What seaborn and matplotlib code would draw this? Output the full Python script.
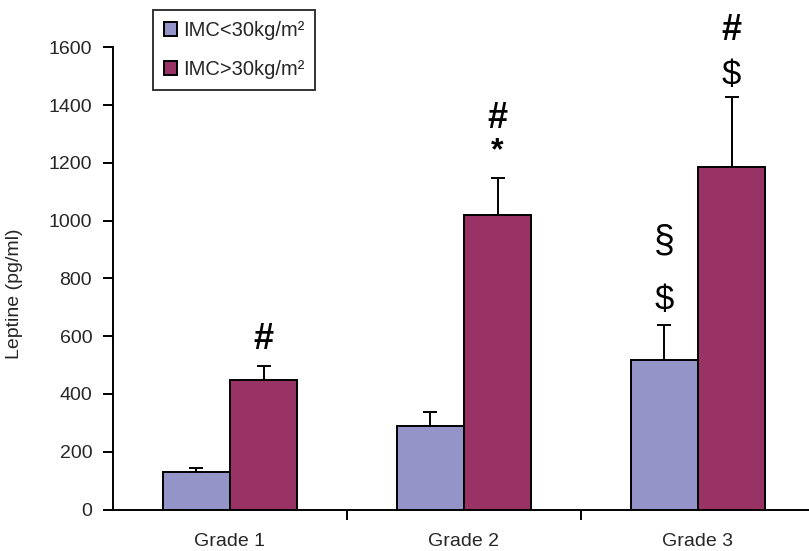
import matplotlib
matplotlib.use('Agg')
import matplotlib.pyplot as plt
import pandas as pd
import seaborn as sns

# Data
grades = ['Grade 1', 'Grade 2', 'Grade 3']
groups = ['IMC<30kg/m²', 'IMC>30kg/m²']
leptin_low = [130, 288, 518]
leptin_high = [448, 1018, 1185]
err_low = [13, 48, 120]
err_high = [50, 130, 242]

# significance marks: (grade index, group index, symbols bottom->top)
marks = [
    (0, 1, ['#']),
    (1, 1, ['*', '#']),
    (2, 0, ['$', '§']),
    (2, 1, ['$', '#']),
]

df = pd.DataFrame({
    'grade': grades * 2,
    'group': [groups[0]] * 3 + [groups[1]] * 3,
    'leptin': leptin_low + leptin_high,
})

sns.set_style('white')
plt.rcParams['font.family'] = ['Liberation Sans', 'DejaVu Sans']

fig = plt.figure(figsize=(8.09, 5.51), dpi=100)
ax = fig.add_axes([113 / 809, 41.5 / 551, 702 / 809, 462.2 / 551])

sns.barplot(data=df, x='grade', y='leptin', hue='group', order=grades,
            hue_order=groups, palette=['#9494C8', '#993366'], saturation=1,
            width=0.573, edgecolor='black', linewidth=1.4, errorbar=None, ax=ax)

# upper-only error bars on top of every bar
errs = [err_low, err_high]
centers = {}
bar_conts = list(ax.containers)
for gi, cont in enumerate(bar_conts):
    for ci, bar in enumerate(cont):
        x = bar.get_x() + bar.get_width() / 2
        h = bar.get_height()
        centers[(ci, gi)] = (x, h + errs[gi][ci])
        ax.errorbar(x, h, yerr=[[0], [errs[gi][ci]]], color='black',
                    elinewidth=1.4, capsize=4.8, capthick=1.4, zorder=3)

# offsets in points above the cap for the lower / upper mark
offsets = {(2, 0): [18, 60], (2, 1): [16, 48]}
sizes = {'#': 26, '*': 23, '$': 25, '§': 27}
for ci, gi, syms in marks:
    x, top = centers[(ci, gi)]
    offs = offsets.get((ci, gi), [19, 43])
    for k, s in enumerate(syms):
        bold = s in '#*'
        ax.annotate(s, xy=(x, top), xytext=(0, offs[k]), textcoords='offset points',
                    ha='center', va='center', fontsize=sizes[s],
                    fontweight='bold' if bold else 'normal', color='black')

ax.set_ylim(0, 1600)
ax.set_xlim(-0.5, 2.5)
ax.set_yticks(range(0, 1601, 200))
ax.set_xlabel('')
ax.set_ylabel('Leptine (pg/ml)', fontsize=14)
ax.yaxis.set_label_coords(-0.128, 0.466)

for side in ['top', 'right']:
    ax.spines[side].set_visible(False)
for side in ['left', 'bottom']:
    ax.spines[side].set_color('black')
    ax.spines[side].set_linewidth(1.4)

ax.tick_params(axis='y', direction='out', length=7, width=1.4, color='black',
               labelsize=14, pad=8, left=True)
ax.tick_params(axis='x', which='major', length=0, labelsize=14, pad=17)
ax.set_xticks([0.5, 1.5, 2.5], minor=True)
ax.tick_params(axis='x', which='minor', direction='out', length=7, width=1.4,
               color='black', bottom=True)

leg = ax.legend(loc='upper left', bbox_to_anchor=(0.0566, 1.081), borderaxespad=0,
                fontsize=14.5, frameon=True, fancybox=False, handlelength=0.65,
                handleheight=0.65, handletextpad=0.3, labelspacing=1.0,
                borderpad=0.55, title=None)
leg.get_frame().set_edgecolor('black')
leg.get_frame().set_linewidth(1.4)

fig.savefig('out.png', dpi=100)
